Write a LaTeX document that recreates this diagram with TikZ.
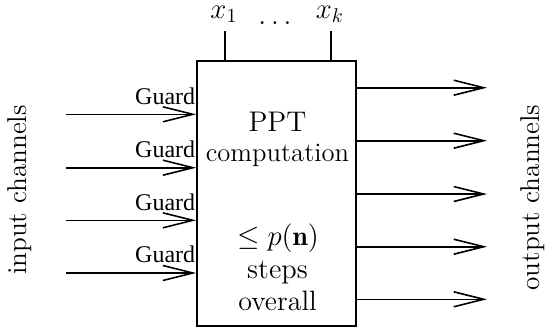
\documentclass[tikz,border=0pt]{standalone}
\usepackage{fontspec}
\newfontfamily\guardfont{Liberation Serif}
\usetikzlibrary{arrows.meta}
\begin{document}
\begin{tikzpicture}[x=0.5pt,y=-0.5pt, line width=0.8pt,
  chan/.style={-{Straight Barb[length=15pt,width=7.5pt]}},
  txt/.style={font=\fontsize{13.75}{16}\selectfont, inner sep=0pt, anchor=base},
  guard/.style={font=\guardfont\fontsize{12}{14}\selectfont, inner sep=0pt, anchor=base east},
  side/.style={font=\fontsize{13.6}{16}\selectfont, inner sep=0pt, rotate=90}]
\useasboundingbox (0,0) rectangle (546,328);
\node[draw, minimum width=79.5pt, minimum height=132.5pt, inner sep=0pt] (box) at (276.5,193.5) {};
% inputs
\coordinate (in1) at (66,114.3);
\coordinate (in2) at (66,167.7);
\coordinate (in3) at (66,220.3);
\coordinate (in4) at (66,273);
\foreach \i in {1,...,4} {
  \draw[chan] (in\i) -- (in\i -| box.west);
}
\node[guard] (g1) at (196,104) {Guard};
\node[guard] (g2) at (196,157) {Guard};
\node[guard] (g3) at (196,210) {Guard};
\node[guard] (g4) at (196,262.5) {Guard};
% outputs
\coordinate (out1) at (487,87.7);
\coordinate (out2) at (487,140.7);
\coordinate (out3) at (487,194);
\coordinate (out4) at (487,246.7);
\coordinate (out5) at (487,299.3);
\foreach \i in {1,...,5} {
  \draw[chan] (out\i -| box.east) -- (out\i);
}
% top parameters
\coordinate (t1) at (225,30.7);
\coordinate (tk) at (330.7,30.7);
\draw (box.north -| t1) -- (t1);
\draw (box.north -| tk) -- (tk);
\node[txt] (x1) at (224,18) {$x_1$};
\node[txt] (dots) at (275,24.5) {$\ldots$};
\node[txt] (xk) at (330,18) {$x_k$};
% box text
\node[txt, font=\fontsize{14.2}{16}\selectfont] (ppt) at (277.5,131.7) {PPT};
\node[txt, font=\fontsize{13.3}{16}\selectfont] (comp) at (277.5,161.7) {computation};
\node[txt] (le) at (278,245) {$\le p(\mathbf{n})$};
\node[txt, font=\fontsize{14.2}{16}\selectfont] (steps) at (277.5,278) {steps};
\node[txt, font=\fontsize{14}{16}\selectfont] (over) at (277.5,310) {overall};
% side labels
\node[side] (inlab) at (20,190) {input channels};
\node[side] (outlab) at (533,197.5) {output channels};
\end{tikzpicture}
\end{document}
